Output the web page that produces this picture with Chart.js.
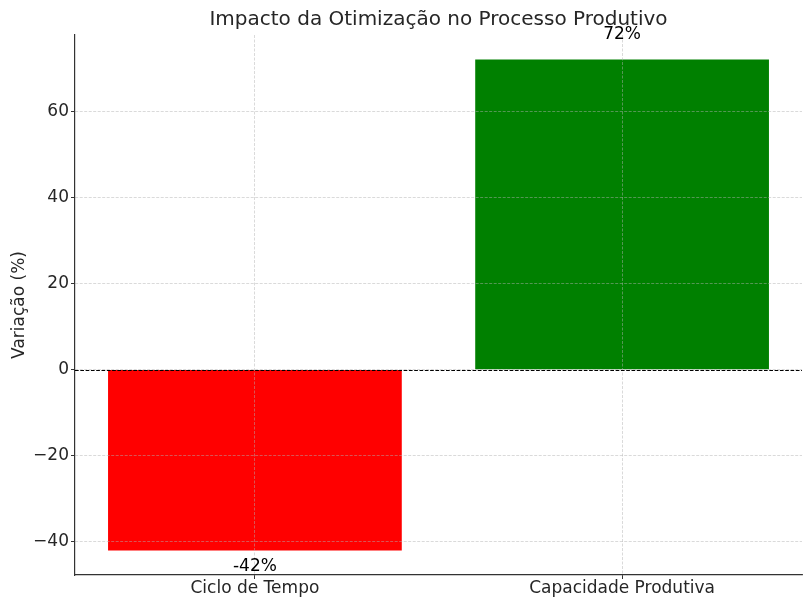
<!DOCTYPE html>
<html>
<head>
<meta charset="utf-8">
<script src="https://cdn.jsdelivr.net/npm/chart.js@4/dist/chart.umd.min.js"></script>
<style>
  html, body { margin: 0; padding: 0; background: #fff; }
  #wrap { width: 812px; height: 607px; }
</style>
</head>
<body>
<div id="wrap"><canvas id="barChart" width="812" height="607"></canvas></div>
<script>
// Data
const categories = ['Ciclo de Tempo', 'Capacidade Produtiva'];
const variation = [-42, 72];
const barColors = ['#ff0000', '#008000'];
const yTickValues = [-40, -20, 0, 20, 40, 60];

const FONT = 'DejaVu Sans';
const TEXT_COLOR = '#262626';

// Title, zero line and value labels
const overlayPlugin = {
  id: 'overlay',
  afterDraw(chart) {
    const ctx = chart.ctx;
    const area = chart.chartArea;
    const yScale = chart.scales.y;

    // dashed zero line
    const y0 = Math.round(yScale.getPixelForValue(0)) + 0.5;
    ctx.save();
    ctx.strokeStyle = '#000';
    ctx.lineWidth = 1;
    ctx.setLineDash([3.7, 1.6]);
    ctx.beginPath();
    ctx.moveTo(area.left, y0);
    ctx.lineTo(area.right, y0);
    ctx.stroke();
    ctx.restore();

    // value labels
    const meta = chart.getDatasetMeta(0);
    ctx.save();
    ctx.font = '17px ' + FONT;
    ctx.fillStyle = '#000';
    ctx.textAlign = 'center';
    ctx.textBaseline = 'alphabetic';
    meta.data.forEach((bar, i) => {
      const v = variation[i];
      const y = v >= 0 ? bar.y - 21 : bar.y + 20.5;
      ctx.fillText(v + '%', bar.x, y);
    });
    ctx.restore();

    // title
    ctx.save();
    ctx.font = '20px ' + FONT;
    ctx.fillStyle = TEXT_COLOR;
    ctx.textAlign = 'center';
    ctx.textBaseline = 'middle';
    ctx.fillText('Impacto da Otimização no Processo Produtivo', (area.left + area.right) / 2, 20);
    ctx.restore();
  }
};

const gridOpts = {
  z: 1,
  offset: false,
  color: 'rgba(176, 176, 176, 0.6)',
  lineWidth: 0.8,
  tickColor: '#333',
  tickLength: 4,
  tickWidth: 1,
};

const ctx = document.getElementById('barChart').getContext('2d');
const chart = new Chart(ctx, {
  type: 'bar',
  data: {
    datasets: [{
      data: variation.map((v, i) => ({ x: i, y: v })),
      backgroundColor: barColors,
      borderWidth: 0,
      barPercentage: 0.8,
      categoryPercentage: 1.0,
    }],
  },
  options: {
    responsive: false,
    animation: false,
    layout: { padding: { top: 35, right: 10, bottom: 0, left: 0 } },
    plugins: {
      legend: { display: false },
      tooltip: { enabled: false },
      title: { display: false },
    },
    scales: {
      x: {
        type: 'linear',
        offset: false,
        min: -0.49,
        max: 1.49,
        afterBuildTicks: scale => { scale.ticks = categories.map((c, i) => ({ value: i })); },
        afterFit: scale => { scale.height = 32; },
        ticks: {
          callback: v => categories[v],
          font: { family: FONT, size: 17 },
          color: TEXT_COLOR,
          padding: -1,
          maxRotation: 0,
          autoSkip: false,
        },
        grid: gridOpts,
        border: { color: '#333', width: 1.2, dash: [3, 1.5], z: 1 },
      },
      y: {
        min: -47.7,
        max: 77.7,
        afterBuildTicks: scale => { scale.ticks = yTickValues.map(v => ({ value: v })); },
        afterFit: scale => { scale.width = 75; },
        ticks: {
          callback: v => String(v).replace('-', '\u2212'),
          font: { family: FONT, size: 17 },
          color: TEXT_COLOR,
          padding: 2,
        },
        grid: gridOpts,
        border: { color: '#333', width: 1.2, dash: [3, 1.5], z: 1 },
        title: {
          display: true,
          text: 'Variação (%)',
          font: { family: FONT, size: 17 },
          color: TEXT_COLOR,
          padding: { top: 9, bottom: 8 },
        },
      },
    },
  },
  plugins: [overlayPlugin],
});
</script>
</body>
</html>
